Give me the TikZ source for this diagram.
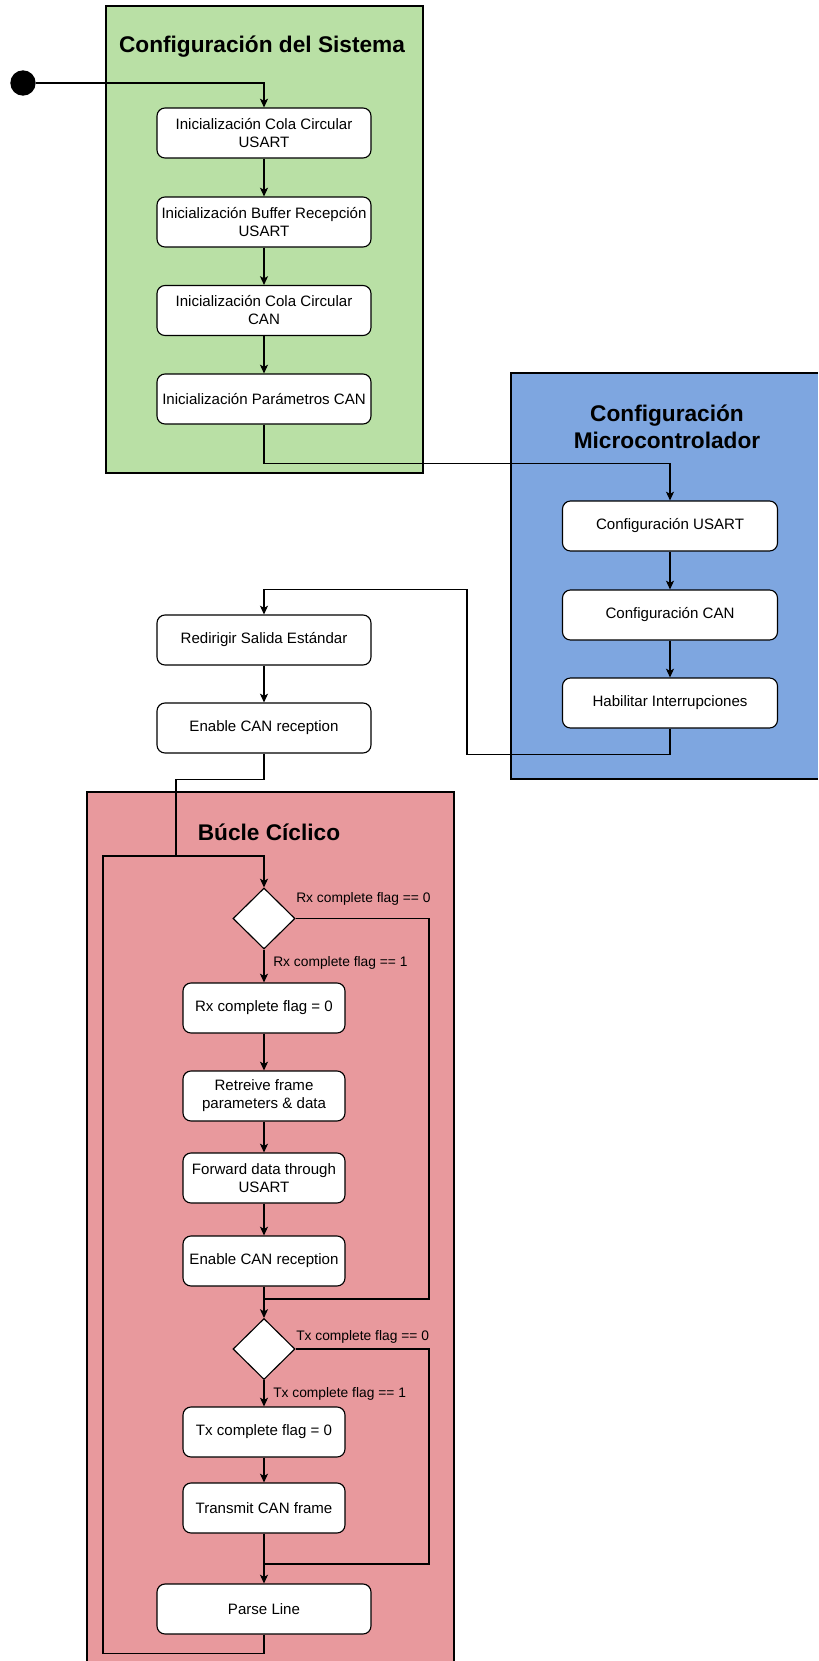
\documentclass[tikz,border=0pt]{standalone}
\usepackage{fontspec}
\setmainfont{Liberation Sans}
\usetikzlibrary{arrows.meta,shapes.geometric}

\definecolor{sysgreen}{HTML}{B9E0A5}
\definecolor{mcublue}{HTML}{7EA6E0}
\definecolor{looppink}{HTML}{E8999D}

\tikzset{
  every node/.style={text=black},
  stepbox/.style={draw=black, line width=0.85pt, fill=white, rounded corners=6pt,
    minimum width=160.5pt, minimum height=37.5pt, inner sep=0pt, align=center,
    font=\fontsize{11.3}{13.5}\selectfont},
  narrowbox/.style={stepbox, minimum width=121.5pt},
  decision/.style={draw=black, line width=0.85pt, fill=white, diamond,
    minimum width=46.5pt, minimum height=45.75pt, inner sep=0pt},
  startdot/.style={circle, fill=black, minimum size=19pt, inner sep=0pt},
  grouptitle/.style={font=\fontsize{17}{20.25}\selectfont\bfseries, align=center},
  guard/.style={font=\fontsize{10.35}{12}\selectfont, anchor=west, inner sep=0pt},
  link/.style={draw=black, line width=0.85pt},
  flow/.style={link, -{Stealth[length=6.5pt,width=6pt,inset=1.5pt]}},
  frame/.style={draw=black, line width=0.85pt}
}

\begin{document}
\begin{tikzpicture}[x=0.75pt, y=-0.75pt]
\useasboundingbox (0,0) rectangle (818,1661);

% group backgrounds
\fill[sysgreen] (106,6) rectangle (423,473);
\draw[frame] (106,6) rectangle (423,473);
\fill[mcublue] (511,373) rectangle (818,779);
\draw[frame] (818,373) -- (511,373) -- (511,779) -- (818,779);
\fill[looppink] (87,792) rectangle (454,1661);
\draw[frame] (87,1661) -- (87,792) -- (454,792) -- (454,1661);

% group titles
\node[grouptitle] (tsys) at (262,47) {Configuración del Sistema};
\node[grouptitle] (tmcu) at (667,427) {Configuración\\Microcontrolador};
\node[grouptitle] (tloop) at (269,832) {Búcle Cíclico};

% system configuration
\node[startdot] (start) at (23,83) {};
\node[stepbox] (g1) at (264,133) {Inicialización Cola Circular\\USART};
\node[stepbox] (g2) at (264,222) {Inicialización Buffer Recepción\\USART};
\node[stepbox] (g3) at (264,310.5) {Inicialización Cola Circular\\CAN};
\node[stepbox] (g4) at (264,399) {Inicialización Parámetros CAN};

% microcontroller configuration
\node[stepbox, minimum width=161.25pt] (b1) at (670,526) {Configuración USART};
\node[stepbox, minimum width=161.25pt] (b2) at (670,615) {Configuración CAN};
\node[stepbox, minimum width=161.25pt] (b3) at (670,703) {Habilitar Interrupciones};

% standalone steps
\node[stepbox] (r1) at (264,640) {Redirigir Salida Estándar};
\node[stepbox] (r2) at (264,728) {Enable CAN reception};

% cyclic loop
\node[decision] (d1) at (264,918.5) {};
\node[narrowbox] (l1) at (264,1008) {Rx complete flag = 0};
\node[narrowbox] (l2) at (264,1096) {Retreive frame\\parameters \& data};
\node[narrowbox] (l3) at (264,1178) {Forward data through\\USART};
\node[narrowbox] (l4) at (264,1261) {Enable CAN reception};
\node[decision] (d2) at (264,1349) {};
\node[narrowbox] (l5) at (264,1432) {Tx complete flag = 0};
\node[narrowbox] (l6) at (264,1508) {Transmit CAN frame};
\node[stepbox] (parse) at (264,1609) {Parse Line};

% guard labels
\node[guard] (g10) at (296,899) {Rx complete flag == 0};
\node[guard] (g11) at (273,963) {Rx complete flag == 1};
\node[guard] (g20) at (296,1337) {Tx complete flag == 0};
\node[guard] (g21) at (273,1394) {Tx complete flag == 1};

% junction points
\coordinate (loopin) at (176,856);
\coordinate (rxjoin) at (264,1299);
\coordinate (txjoin) at (264,1564);

% connectors
\draw[flow] (start) -| (g1.north);
\draw[flow] (g1) -- (g2);
\draw[flow] (g2) -- (g3);
\draw[flow] (g3) -- (g4);
\draw[flow] (g4.south) -- ++(0,39) -| (b1.north);
\draw[flow] (b1) -- (b2);
\draw[flow] (b2) -- (b3);
\draw[flow] (b3.south) -- ++(0,26) -- ++(-203,0) -- ++(0,-165) -| (r1.north);
\draw[flow] (r1) -- (r2);
\draw[link] (r2.south) -- ++(0,26) -| (loopin);
\draw[flow] (parse.south) -- ++(0,19) -| (103,856) -| (d1.north);
\draw[flow] (d1.south) -- (l1.north);
\draw[flow] (l1) -- (l2);
\draw[flow] (l2) -- (l3);
\draw[flow] (l3) -- (l4);
\draw[link] (d1.east) -| (429,1299) -- (rxjoin);
\draw[flow] (l4.south) -- (d2.north);
\draw[flow] (d2.south) -- (l5.north);
\draw[flow] (l5) -- (l6);
\draw[link] (d2.east) -| (429,1564) -- (txjoin);
\draw[flow] (l6.south) -- (parse.north);
\end{tikzpicture}
\end{document}
